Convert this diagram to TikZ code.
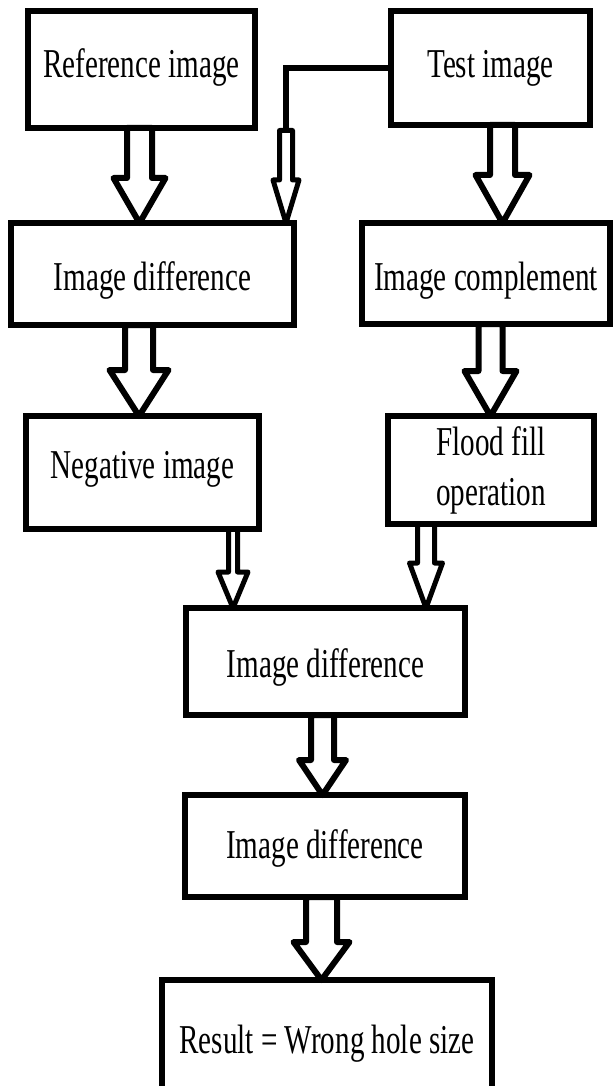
\documentclass[tikz,border=0pt]{standalone}
\usepackage{fontspec}
\setmainfont{Liberation Serif}[FakeStretch=0.71]
\usetikzlibrary{calc}

\tikzset{
  stage/.style={draw,line width=6pt,inner sep=0pt,outer sep=0pt,
    font=\fontsize{41}{50}\selectfont},
  lift/.style={text height=#1pt,text depth=0pt},
  blk/.style={line width=6pt,line join=round},
}

% hollow block arrow: x, from, to, half shaft, half head, head length
\newcommand{\hollow}[7][]{%
  \draw[blk,#1] let \p1=(#3), \p2=(#4) in
    (#2pt-#5pt,\y1) -- (#2pt-#5pt,\y2+#7pt) -- (#2pt-#6pt,\y2+#7pt) -- (#2pt,\y2)
    -- (#2pt+#6pt,\y2+#7pt) -- (#2pt+#5pt,\y2+#7pt) -- (#2pt+#5pt,\y1) -- cycle;}

\begin{document}
\begin{tikzpicture}[x=1pt,y=-1pt]
  \useasboundingbox (0,0) rectangle (613,1086);
  \clip (0,0) rectangle (613,1086);

  \node[stage,minimum width=227pt,minimum height=117pt,lift=17] (ref) at (141.5,69.5) {Reference image};
  \node[stage,minimum width=199pt,minimum height=114pt,lift=20] (test) at (490.5,68) {Test image};
  \node[stage,minimum width=283pt,minimum height=102pt,lift=32] (diffa) at (152.5,274) {Image difference};
  \node[stage,minimum width=248pt,minimum height=101pt,lift=33] (compl) at (486,273.5) {Image complement};
  \node[stage,minimum width=233pt,minimum height=113pt,lift=11] (neg) at (142.5,472.5) {Negative image};
  \node[stage,minimum width=206pt,minimum height=108pt,align=center] (flood) at (491,470) {Flood fill\\operation};
  \node[stage,minimum width=279pt,minimum height=107pt,lift=31] (diffb) at (325.5,661.5) {Image difference};
  \node[stage,minimum width=280pt,minimum height=102pt,lift=24] (diffc) at (325,846) {Image difference};
  \node[stage,minimum width=330pt,minimum height=117pt,lift=29] (result) at (327,1038.5) {Result = Wrong hole size};

  \coordinate (drop) at (286,130.5);
  \draw[line width=6pt] (test.west) -| (drop);

  \hollow{139.5}{ref.south}{diffa.north}{12.5}{26}{45}
  \hollow[line width=5pt]{286}{drop}{diffa.north}{6.5}{13}{43}
  \hollow{502.5}{test.south}{compl.north}{12.5}{27}{48}
  \hollow{139}{diffa.south}{neg.north}{14}{29.5}{46}
  \hollow{490.5}{compl.south}{flood.north}{12}{26}{45}
  \hollow[line width=5pt]{233}{neg.south}{diffb.north}{4.5}{15}{36}
  \hollow[line width=5pt]{426}{flood.south}{diffb.north}{8.5}{16.5}{45}
  \hollow{322.5}{diffb.south}{diffc.north}{11.5}{23.5}{35}
  \hollow{321.5}{diffc.south}{result.north}{15.5}{28}{38}
\end{tikzpicture}
\end{document}
